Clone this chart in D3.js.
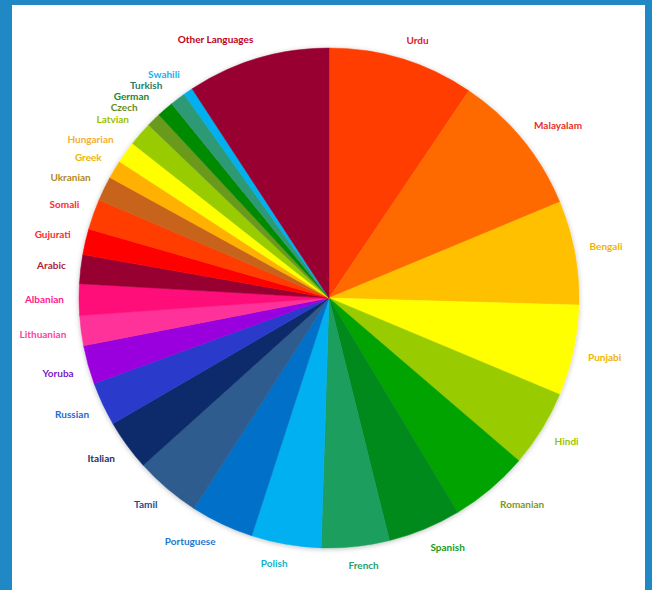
<!DOCTYPE html>
<html lang="en">
<head>
    <meta charset="UTF-8">
    <title>Languages</title>
    <script src="https://cdn.jsdelivr.net/npm/d3@7/dist/d3.min.js"></script>
    <style>
        body { margin: 0; }
        text { font-family: Lato, "Open Sans", sans-serif; font-weight: 700; font-size: 10px; }
    </style>
</head>
<body>
    <svg width=652 height=590></svg>
    <script>
        // clockwise from 12 o'clock
        var languages = ['Urdu', 'Malayalam', 'Bengali', 'Punjabi', 'Hindi', 'Romanian', 'Spanish', 'French',
            'Polish', 'Portuguese', 'Tamil', 'Italian', 'Russian', 'Yoruba', 'Lithuanian', 'Albanian', 'Arabic',
            'Gujurati', 'Somali', 'Ukranian', 'Greek', 'Hungarian', 'Latvian', 'Czech', 'German', 'Turkish',
            'Swahili', 'Other Languages'];

        var shares = [9.44, 9.28, 6.72, 5.86, 4.97, 5.11, 4.72, 4.39,
            4.5, 4.08, 4.25, 3.28, 2.83, 2.5, 1.94, 2.03, 1.86,
            1.67, 1.97, 1.58, 1.19, 1.42, 1.56, 0.92, 1.08, 1.0,
            0.61, 9.22];

        var sliceColors = ['#ff3c00', '#ff6a00', '#ffc000', '#ffff00', '#99cc00', '#00a300', '#008a1e', '#1a9e5f',
            '#00b0f0', '#0070c8', '#2e5c8f', '#0a2a6a', '#2a3acc', '#9900dd', '#ff3399', '#ff0a78', '#990033',
            '#ff0000', '#ff3c00', '#c8641e', '#ffb000', '#ffff00', '#99cc00', '#6b9a1e', '#008a00', '#2e9a74',
            '#00b0f0', '#990033'];

        var labelColors = ['#e0201c', '#e8302a', '#f0b400', '#f0b400', '#99c400', '#7a9a1e', '#1a9a1e', '#2a9e6f',
            '#10b0c8', '#1e78d0', '#2c4a8a', '#1e2e6a', '#1e6ad0', '#7a20c8', '#ff3fa0', '#ff1a8c', '#b0203c',
            '#ff2a2a', '#ff2a2a', '#b08a1e', '#f0b400', '#f5b030', '#99c000', '#6a8a1e', '#1a8a1e', '#2a7a6a',
            '#1ab0f0', '#c00020'];

        var svg = d3.select('svg'),
            width = +svg.attr('width'),
            height = +svg.attr('height'),
            cx = 329,
            cy = 298,
            radius = 250,
            labelRadius = 265,
            labelGap = 11;

        svg.append('rect')
            .attr('width', width)
            .attr('height', height)
            .attr('fill', '#2088c4');

        svg.append('rect')
            .attr('x', 12)
            .attr('y', 5)
            .attr('width', 633)
            .attr('height', height - 5)
            .attr('fill', '#fff');

        var defs = svg.append('defs');
        defs.append('filter')
            .attr('id', 'shadow')
            .attr('x', '-10%').attr('y', '-10%').attr('width', '120%').attr('height', '120%')
            .append('feDropShadow')
            .attr('dx', 0).attr('dy', 1)
            .attr('stdDeviation', 2.5)
            .attr('flood-color', '#000')
            .attr('flood-opacity', 0.25);

        var pie = d3.pie().sort(null).value(function(d) { return d; }),
            arcs = pie(shares),
            arcG = d3.arc().innerRadius(0).outerRadius(radius);

        var chartG = svg.append('g')
            .attr('transform', 'translate(' + [cx, cy] + ')');

        chartG.append('g')
            .attr('filter', 'url(#shadow)')
            .selectAll('path')
            .data(arcs)
            .enter()
            .append('path')
            .attr('d', arcG)
            .attr('fill', function(d, i) { return sliceColors[i]; })
            .attr('stroke', function(d, i) { return sliceColors[i]; })
            .attr('stroke-width', 0.5);

        function clamp(v) { return Math.max(-1, Math.min(1, v)); }

        var labels = chartG.selectAll('.label')
            .data(arcs)
            .enter()
            .append('text')
            .classed('label', true)
            .attr('text-anchor', 'middle')
            .attr('dy', '0.35em')
            .attr('fill', function(d, i) { return labelColors[i]; })
            .text(function(d, i) { return languages[i]; })
            .each(function(d) {
                var a = (d.startAngle + d.endAngle) / 2,
                    s = Math.sin(a),
                    c = Math.cos(a),
                    w = this.getComputedTextLength(),
                    h = 9;
                d.lw = w;
                d.lx = labelRadius * s + w / 2 * clamp(s * 4);
                d.ly = -labelRadius * c - h / 2 * clamp(c * 4);
            });

        // push crowded labels on the upper left downwards, sliding them round the circle
        var upperLeft = arcs.filter(function(d) { return d.lx < 0 && d.ly < 0; })
            .sort(function(a, b) { return a.ly - b.ly; });
        for (var i = 1; i < upperLeft.length; i++) {
            var prev = upperLeft[i - 1], cur = upperLeft[i];
            if (cur.ly < prev.ly + labelGap) {
                cur.ly = prev.ly + labelGap;
                var r = labelRadius + 5;
                cur.lx = -Math.sqrt(Math.max(0, r * r - cur.ly * cur.ly)) - cur.lw / 2;
            }
        }

        labels.attr('x', function(d) { return d.lx; })
            .attr('y', function(d) { return d.ly; });
    </script>
</body>
</html>
